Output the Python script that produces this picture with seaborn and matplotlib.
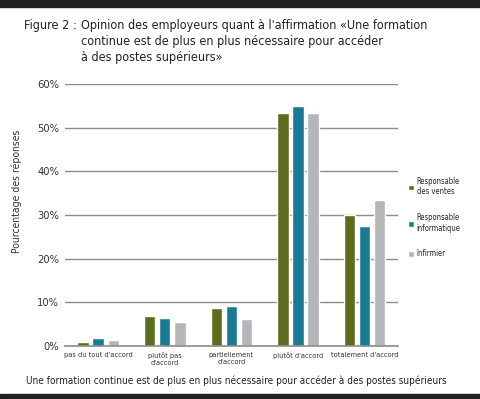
import numpy as np
import pandas as pd
import matplotlib
matplotlib.use("Agg")
import matplotlib.pyplot as plt
import seaborn as sns
from matplotlib.patches import Rectangle

categories = ["pas du tout d'accord", "plutôt pas\nd'accord", "partiellement\nd'accord",
              "plutôt d'accord", "totalement d'accord"]
groups = ["Responsable\ndes ventes", "Responsable\ninformatique", "Infirmier"]
ventes = [1.0, 6.9, 8.6, 53.3, 30.0]
informatique = [1.9, 6.3, 9.2, 55.0, 27.6]
infirmier = [1.3, 5.5, 6.1, 53.5, 33.5]
colors = ["#5e6d1c", "#187a94", "#b5b6ba"]

df = pd.DataFrame({
    "categorie": categories * 3,
    "groupe": [groups[0]] * 5 + [groups[1]] * 5 + [groups[2]] * 5,
    "pct": ventes + informatique + infirmier,
})

sns.set_style("white")
plt.rcParams['font.family'] = ['DejaVu Sans']
plt.rcParams['font.stretch'] = 'condensed'

fig = plt.figure(figsize=(4.8, 3.99), dpi=100)
fig.patch.set_facecolor("white")
ax = fig.add_axes([0.135, 0.133, 0.694, 0.656])

sns.barplot(data=df, x="categorie", y="pct", hue="groupe", palette=colors,
            width=0.68, gap=0.25, ax=ax, saturation=1, legend=True)

ax.set_ylim(0, 60)
ax.set_xlim(-0.5, 4.5)
ax.set_yticks(np.arange(0, 61, 10))
ax.set_yticklabels([f"{v}%" for v in range(0, 61, 10)], fontsize=8, color="#333333")
ax.yaxis.grid(True, color="#8c8c8c", linewidth=1)
ax.set_axisbelow(True)
for s in ["top", "right", "left"]:
    ax.spines[s].set_visible(False)
ax.spines["bottom"].set_color("#8c8c8c")
ax.spines["bottom"].set_linewidth(1.2)
ax.tick_params(axis="y", length=0, pad=4)
ax.tick_params(axis="x", length=0, pad=4.5, labelsize=5.3, labelcolor="#333333")
ax.set_xlabel("")
ax.set_ylabel("Pourcentage des réponses", fontsize=7.5, color="#333333")
ax.yaxis.set_label_coords(-0.129, 0.59)

leg = ax.legend(loc="center left", bbox_to_anchor=(1.01, 0.49), frameon=False,
                fontsize=5.5, handlelength=0.8, handleheight=0.8, handletextpad=0.3,
                labelspacing=2.2)

fig.text(0.05, 0.952, "Figure 2 :", fontsize=9, color="#222222", va="top")
fig.text(0.168, 0.952, "Opinion des employeurs quant à l'affirmation «Une formation\n"
         "continue est de plus en plus nécessaire pour accéder\nà des postes supérieurs»",
         fontsize=9, color="#222222", va="top", linespacing=1.28)
fig.text(0.493, 0.045, "Une formation continue est de plus en plus nécessaire pour accéder à des postes supérieurs",
         fontsize=7.2, color="#222222", ha="center", va="center")

fig.add_artist(Rectangle((0, 1 - 7 / 399), 1, 7 / 399, transform=fig.transFigure,
                         color="#222222", zorder=10))
fig.add_artist(Rectangle((0, 0), 1, 5 / 399, transform=fig.transFigure,
                         color="#222222", zorder=10))

fig.savefig("out.png", dpi=100)
